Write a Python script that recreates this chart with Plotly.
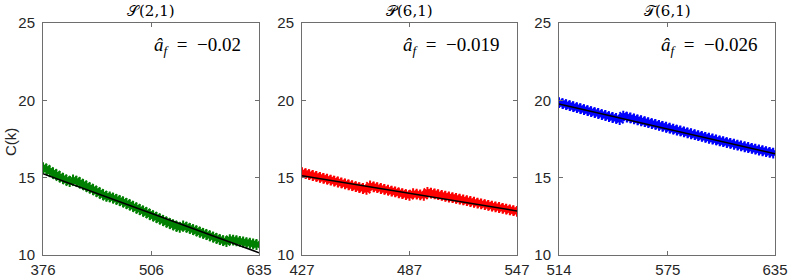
import plotly.graph_objects as go

# ---- data ----
s_k = list(range(376, 636, 4))
s_vals = [15.65, 15.55, 15.42, 15.30, 15.18, 15.06, 14.95, 14.84, 14.74,
          14.85, 14.78, 14.67, 14.56, 14.45, 14.34, 14.23, 14.12, 14.01, 13.90, 13.79,
          13.76, 13.68, 13.60, 13.52, 13.43, 13.34, 13.24, 13.14, 13.04, 12.94, 12.84,
          12.74, 12.63, 12.53, 12.43, 12.33, 12.23, 12.13, 12.04, 11.95, 11.86, 11.78,
          11.88, 11.80, 11.72, 11.64, 11.56, 11.48, 11.40, 11.32, 11.24, 11.16, 11.08,
          11.00, 10.93, 10.86,
          11.00, 10.96, 10.92, 10.88, 10.84, 10.80, 10.76, 10.72, 10.68]

p_k = list(range(427, 548, 2))
p_vals = [15.32, 15.26, 15.20, 15.14, 15.08, 15.02, 14.96, 14.90, 14.84, 14.78,
          14.72, 14.66, 14.60, 14.54, 14.48, 14.42, 14.36, 14.30, 14.24,
          14.46, 14.41, 14.35, 14.30, 14.24, 14.19, 14.13, 14.08, 14.02, 13.97, 13.91, 13.86,
          13.96, 13.93, 13.89, 13.86,
          14.05, 14.00, 13.95, 13.90, 13.85, 13.80, 13.75, 13.71, 13.66, 13.61, 13.56,
          13.51, 13.46, 13.41, 13.36, 13.31, 13.26, 13.21, 13.16, 13.11, 13.07, 13.02,
          12.97, 12.92, 12.87, 12.82]

t_k = list(range(514, 636, 2))
t_vals = [19.85, 19.79, 19.72, 19.66, 19.59, 19.53, 19.47, 19.40, 19.34, 19.27,
          19.21, 19.15, 19.08, 19.02, 18.95, 18.89, 18.83, 18.76,
          18.98, 18.92, 18.86, 18.80, 18.74, 18.68, 18.62, 18.56, 18.50, 18.44, 18.38,
          18.32, 18.26, 18.20, 18.14, 18.08, 18.02, 17.96, 17.90, 17.84, 17.78, 17.72,
          17.67, 17.61, 17.55, 17.50, 17.44, 17.38, 17.33, 17.27, 17.22, 17.16, 17.11,
          17.05, 17.00, 16.95, 16.90, 16.84, 16.79, 16.74, 16.69, 16.64, 16.59]

fit_k = [[376, 635], [427, 547], [514, 635]]
fit_v = [[15.25, 10.15], [15.12, 12.85], [19.77, 16.55]]

titles = ["\U0001D4AE(2,1)", "\U0001D4AB(6,1)", "\U0001D4AF(6,1)"]
af_labels = ["\u22120.02", "\u22120.019", "\u22120.026"]
x_ticks = [[376, 506, 635], [427, 487, 547], [514, 575, 635]]
y_ticks = [10, 15, 20, 25]
colors = ["#008000", "#ff0000", "#0000ff"]

W, H = 789, 278
px_left = [43, 302, 559]
px_right = [259, 517, 775]
y_top, y_bot = 23, 255

fig = go.Figure()
series = [(s_k, s_vals), (p_k, p_vals), (t_k, t_vals)]
axis_col = "#6e6e6e"
tick_font = dict(family="Liberation Sans", size=15, color="#262626")
for i in range(3):
    xa = "x" if i == 0 else f"x{i+1}"
    ya = "y" if i == 0 else f"y{i+1}"
    ks, vs = series[i]
    fig.add_trace(go.Scatter(x=ks, y=vs, xaxis=xa, yaxis=ya, mode="markers",
                             marker=dict(symbol="asterisk-open", size=9, color=colors[i],
                                         line=dict(width=2, color=colors[i])),
                             showlegend=False))
    fig.add_trace(go.Scatter(x=fit_k[i], y=fit_v[i], xaxis=xa, yaxis=ya, mode="lines",
                             line=dict(color="black", width=1.5), showlegend=False))
    dom_x = [px_left[i] / W, px_right[i] / W]
    dom_y = [1 - y_bot / H, 1 - y_top / H]
    xkey = "xaxis" if i == 0 else f"xaxis{i+1}"
    ykey = "yaxis" if i == 0 else f"yaxis{i+1}"
    fig.layout[xkey] = dict(domain=dom_x, anchor=ya, range=[fit_k[i][0], fit_k[i][1]],
                            tickvals=x_ticks[i], ticktext=[str(v) for v in x_ticks[i]],
                            ticks="inside", ticklen=4, tickcolor=axis_col,
                            showline=True, linecolor=axis_col, linewidth=1, mirror="ticks",
                            showgrid=False, zeroline=False, automargin=False,
                            ticklabelstandoff=1, tickfont=tick_font)
    fig.layout[ykey] = dict(domain=dom_y, anchor=xa, range=[10, 25],
                            tickvals=y_ticks, ticks="inside", ticklen=4, tickcolor=axis_col,
                            showline=True, linecolor=axis_col, linewidth=1, mirror="ticks",
                            showgrid=False, zeroline=False, automargin=False,
                            ticklabelstandoff=4, tickfont=tick_font)
    fig.add_annotation(text=titles[i], xref="paper", yref="paper",
                       x=(px_left[i] + px_right[i]) / 2 / W, y=1 - 11 / H,
                       xanchor="center", yanchor="middle", showarrow=False,
                       font=dict(family="DejaVu Serif", size=15, color="black"))
    fig.add_annotation(text="<i>\u00e2</i><sub><i>f</i></sub>\u2002=\u2002" + af_labels[i],
                       xref=f"{xa} domain", yref=f"{ya} domain", x=0.925, y=0.90,
                       xanchor="right", yanchor="middle", showarrow=False,
                       font=dict(family="Liberation Serif", size=19, color="black"))

fig.add_annotation(text="C(k)", xref="paper", yref="paper", x=10 / W, y=1 - 142 / H,
                   textangle=-90, xanchor="center", yanchor="middle", showarrow=False,
                   font=dict(family="Liberation Sans", size=15, color="#262626"))

fig.update_layout(width=W, height=H,
                  margin=dict(l=0, r=0, t=0, b=0, pad=0, autoexpand=False),
                  paper_bgcolor="white", plot_bgcolor="white")
fig.write_html("out.html", config={"displayModeBar": False},
               post_script="document.body.style.margin='0';document.body.style.overflow='hidden';")
